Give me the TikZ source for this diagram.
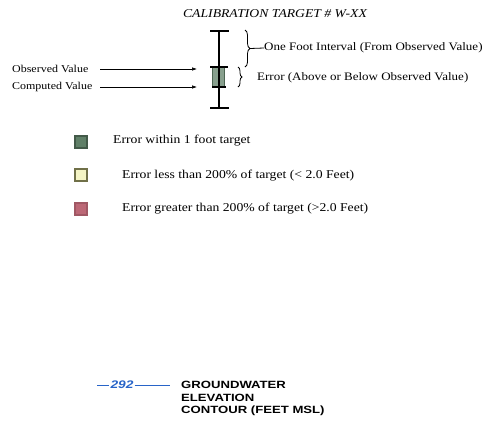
\documentclass[tikz,border=0pt]{standalone}
\usepackage{fontspec}
\setmainfont{Liberation Serif}[FakeStretch=1.14]
\newfontfamily\contourfont{Liberation Sans}[FakeStretch=1.25]
\definecolor{TargetGreen} {RGB}{96,128,104}
\definecolor{TargetYellow}{RGB}{244,244,196}
\definecolor{TargetOlive} {RGB}{112,112,72}
\definecolor{TargetRed}   {RGB}{188,104,118}
\definecolor{ContourBlue} {RGB}{40,100,200}
\usetikzlibrary{arrows.meta,positioning,decorations.pathreplacing}

\begin{document}
\begin{tikzpicture}[x=1pt,y=-1pt,
  lbl/.style={font=\fontsize{11.4}{12}\selectfont,anchor=west,inner sep=0pt},
  vallbl/.style={font=\fontsize{10.5}{12}\selectfont,anchor=west,inner sep=0pt},
  keytext/.style={font=\fontsize{12}{13}\selectfont,anchor=west,inner sep=0pt},
  swatch/.style={minimum size=12pt,inner sep=0pt,line width=1.3pt},
  bar/.style={line width=1.1pt},
  arr/.style={-{Latex[length=5pt,width=3.5pt]},semithick}]
  \useasboundingbox (0,0) rectangle (489,432);
  \node[font=\itshape\fontsize{12}{13}\selectfont,inner sep=0pt] (title)
        at (275,14) {CALIBRATION TARGET \# W-XX};
  % target symbol
  \coordinate (bartop) at (219,31);
  \coordinate (barbot) at (219,108);
  \node[draw=TargetGreen!80!black,fill=TargetGreen!75,minimum width=12pt,
        minimum height=19pt,inner sep=0pt] (errbox) at (218.5,77) {};
  \draw[bar] (bartop) -- (barbot);
  \draw[bar] (210,31) -- (229,31);
  \draw[bar] (210,108) -- (229,108);
  \draw[bar] (210,67) -- (228,67);
  \draw[bar] (212,87) -- (226,87);
  \draw[decorate,decoration={brace,amplitude=5pt},thick]
        (245,30) -- (245,67);
  \draw[decorate,decoration={brace,amplitude=4pt},thick]
        (238,67) -- (238,87);
  \coordinate (uptip) at (250,48.5);
  \node[lbl] (interval) at (264,48) {One Foot Interval (From Observed Value)};
  \draw[thick] (uptip) -- (interval.west);
  \node[lbl] (errlbl) at (257,78) {Error (Above or Below Observed Value)};
  % value arrows
  \node[vallbl] (obs) at (12,69) {Observed Value};
  \node[vallbl] (comp) at (12,87) {Computed Value};
  \coordinate (arrstart) at (100,0);
  \coordinate (obsend) at (197,69);
  \coordinate (compend) at (197,87);
  \draw[arr] (obs -| arrstart) -- (obsend);
  \draw[arr] (comp -| arrstart) -- (compend);
  % legend
  \node[swatch,draw=TargetGreen!70!black,fill=TargetGreen] (keyA) at (81,142) {};
  \node[swatch,draw=TargetOlive,fill=TargetYellow] (keyB) at (81,175) {};
  \node[swatch,draw=TargetRed!85!black,fill=TargetRed] (keyC) at (81,209) {};
  \node[keytext] (txtA) at (113,141) {Error within 1 foot target};
  \node[keytext] (txtB) at (122,176) {Error less than 200\% of target (< 2.0 Feet)};
  \node[keytext] (txtC) at (122,209) {Error greater than 200\% of target (>2.0 Feet)};
  % contour
  \node[font=\contourfont\bfseries\itshape\fontsize{11}{12}\selectfont,
        text=ContourBlue,inner sep=1pt] (c292) at (122,385) {292};
  \coordinate (lineL) at (97,385);
  \coordinate (lineR) at (170,385);
  \draw[ContourBlue,semithick] (lineL) -- (c292.west);
  \draw[ContourBlue,semithick] (c292.east) -- (lineR);
  \node[font=\contourfont\bfseries\fontsize{10.5}{12.5}\selectfont,
        align=left,anchor=north west,inner sep=0pt] (gwlbl) at (181,381)
        {GROUNDWATER\\ELEVATION\\CONTOUR (FEET MSL)};
\end{tikzpicture}
\end{document}
